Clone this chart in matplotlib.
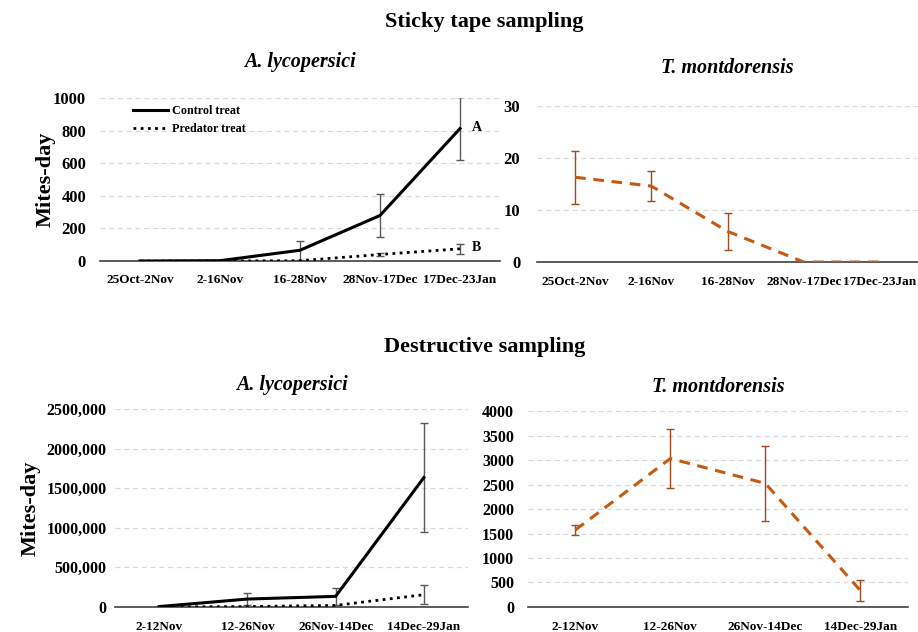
import matplotlib
matplotlib.use("Agg")
import matplotlib.pyplot as plt
from matplotlib.ticker import FuncFormatter, MultipleLocator
import numpy as np

plt.rcParams['font.family'] = ['Liberation Serif', 'DejaVu Serif']
plt.rcParams['font.weight'] = 'bold'

# ---- data ----
sticky_periods = ["25Oct-2Nov", "2-16Nov", "16-28Nov", "28Nov-17Dec", "17Dec-23Jan"]
sticky_control = [0, 2, 66, 279, 812]
sticky_control_err = [0, 0, 58, 133, 195]
sticky_predator = [0, 0, 2, 40, 75]
sticky_predator_err = [0, 0, 0, 10, 30]
sticky_tm = [16.3, 14.6, 5.9, 0, 0]
sticky_tm_err = [5.1, 2.9, 3.5, 0, 0]

destr_periods = ["2-12Nov", "12-26Nov", "26Nov-14Dec", "14Dec-29Jan"]
destr_control = [5000, 100000, 134000, 1634000]
destr_control_err = [0, 76000, 105000, 685000]
destr_predator = [0, 5000, 20000, 155000]
destr_predator_err = [0, 0, 0, 118000]
destr_tm = [1573, 3031, 2522, 335]
destr_tm_err = [105, 600, 766, 206]

ORANGE = '#C55A11'
ORANGE_ERR = '#9E4A1E'
GRID = '#D9D9D9'
ERRGRAY = '#595959'

fig = plt.figure(figsize=(9.18, 6.32), dpi=100)

def style(ax, ylim, step, xlabels, ytickfs=12, xtickfs=9.5, ypad=6, xpad=6):
    n = len(xlabels)
    ax.set_xlim(-0.5, n - 0.5)
    ax.set_ylim(*ylim)
    ax.yaxis.set_major_locator(MultipleLocator(step))
    ax.set_xticks(range(n))
    ax.set_xticklabels(xlabels, fontsize=xtickfs, fontweight='bold')
    for lab in ax.get_yticklabels():
        lab.set_fontweight('bold')
    ax.tick_params(axis='y', labelsize=ytickfs, length=0, pad=ypad)
    ax.tick_params(axis='x', length=0, pad=xpad)
    for s in ['left', 'right', 'top']:
        ax.spines[s].set_visible(False)
    ax.spines['bottom'].set_color('#404040')
    ax.spines['bottom'].set_linewidth(1.2)
    ax.grid(axis='y', color=GRID, linestyle=(0, (4, 3)), linewidth=0.9)
    ax.set_axisbelow(True)

# --- top left ---
ax1 = fig.add_axes([0.1089, 0.587, 0.4357, 0.258])
x5 = np.arange(len(sticky_periods))
ax1.plot(x5, sticky_control, color='black', lw=2.2, label='Control treat', zorder=3)
ax1.plot(x5, sticky_predator, color='black', lw=2.0, linestyle=(0, (1, 1.6)), label='Predator treat', zorder=3)
ax1.errorbar(x5[2:], sticky_control[2:], yerr=sticky_control_err[2:], fmt='none',
             ecolor=ERRGRAY, elinewidth=1.0, capsize=3, capthick=1.0, zorder=2)
ax1.errorbar(x5[3:], sticky_predator[3:], yerr=sticky_predator_err[3:], fmt='none',
             ecolor=ERRGRAY, elinewidth=1.0, capsize=3, capthick=1.0, zorder=2)
style(ax1, (0, 1000), 200, sticky_periods, ytickfs=12, xtickfs=9.5, ypad=10, xpad=9)
ax1.set_ylabel('Mites-day', fontsize=16, fontweight='bold')
ax1.yaxis.set_label_coords(-0.112, 0.5)
ax1.legend(loc='upper left', bbox_to_anchor=(0.055, 1.025), frameon=False,
           prop={'size': 8.7, 'weight': 'bold'}, handlelength=2.9, handletextpad=0.3,
           labelspacing=0.5)
ax1.text(4.15, 820, 'A', fontsize=10, fontweight='bold', va='center', ha='left')
ax1.text(4.15, 85, 'B', fontsize=10, fontweight='bold', va='center', ha='left')
ax1.set_title('A. lycopersici', fontsize=14.5, fontweight='bold', style='italic', pad=22)

# --- top right ---
ax2 = fig.add_axes([0.585, 0.5854, 0.415, 0.2468])
ax2.plot(x5, sticky_tm, color=ORANGE, lw=2.2, linestyle=(0, (3.5, 2.5)), zorder=3)
ax2.errorbar(x5[:3], sticky_tm[:3], yerr=sticky_tm_err[:3], fmt='none',
             ecolor=ORANGE_ERR, elinewidth=1.0, capsize=3, capthick=1.0, zorder=2)
style(ax2, (0, 30), 10, sticky_periods, ytickfs=12, xtickfs=9.5, ypad=12, xpad=10)
ax2.set_title('T. montdorensis', fontsize=14.5, fontweight='bold', style='italic', pad=24)

# --- bottom left ---
ax3 = fig.add_axes([0.1253, 0.0396, 0.3845, 0.3133])
x4 = np.arange(len(destr_periods))
ax3.plot(x4, destr_control, color='black', lw=2.2, zorder=3)
ax3.plot(x4, destr_predator, color='black', lw=2.0, linestyle=(0, (1, 1.6)), zorder=3)
ax3.errorbar(x4[1:], destr_control[1:], yerr=destr_control_err[1:], fmt='none',
             ecolor=ERRGRAY, elinewidth=1.0, capsize=3, capthick=1.0, zorder=2)
ax3.errorbar(x4[3:], destr_predator[3:], yerr=destr_predator_err[3:], fmt='none',
             ecolor=ERRGRAY, elinewidth=1.0, capsize=3, capthick=1.0, zorder=2)
style(ax3, (0, 2500000), 500000, destr_periods, ytickfs=11.5, xtickfs=9.5, ypad=6, xpad=10)
ax3.yaxis.set_major_formatter(FuncFormatter(
    lambda v, p: '0' if v == 0 else f"{int(v // 1000)},{int(v % 1000):03d}"))
for lab in ax3.get_yticklabels():
    lab.set_fontweight('bold')
ax3.set_ylabel('Mites-day', fontsize=16, fontweight='bold', labelpad=4)
ax3.set_title('A. lycopersici', fontsize=14.5, fontweight='bold', style='italic', pad=14)

# --- bottom right ---
ax4 = fig.add_axes([0.575, 0.0396, 0.414, 0.310])
ax4.plot(x4, destr_tm, color=ORANGE, lw=2.2, linestyle=(0, (3.5, 2.5)), zorder=3)
ax4.errorbar(x4, destr_tm, yerr=destr_tm_err, fmt='none',
             ecolor=ORANGE_ERR, elinewidth=1.0, capsize=3, capthick=1.0, zorder=2)
style(ax4, (0, 4000), 500, destr_periods, ytickfs=11.5, xtickfs=9.5, ypad=10, xpad=10)
ax4.set_title('T. montdorensis', fontsize=14.5, fontweight='bold', style='italic', pad=14)

fig.text(0.528, 0.965, 'Sticky tape sampling', fontsize=16, fontweight='bold', ha='center', va='center')
fig.text(0.528, 0.451, 'Destructive sampling', fontsize=16, fontweight='bold', ha='center', va='center')

fig.savefig('out.png', dpi=100)
